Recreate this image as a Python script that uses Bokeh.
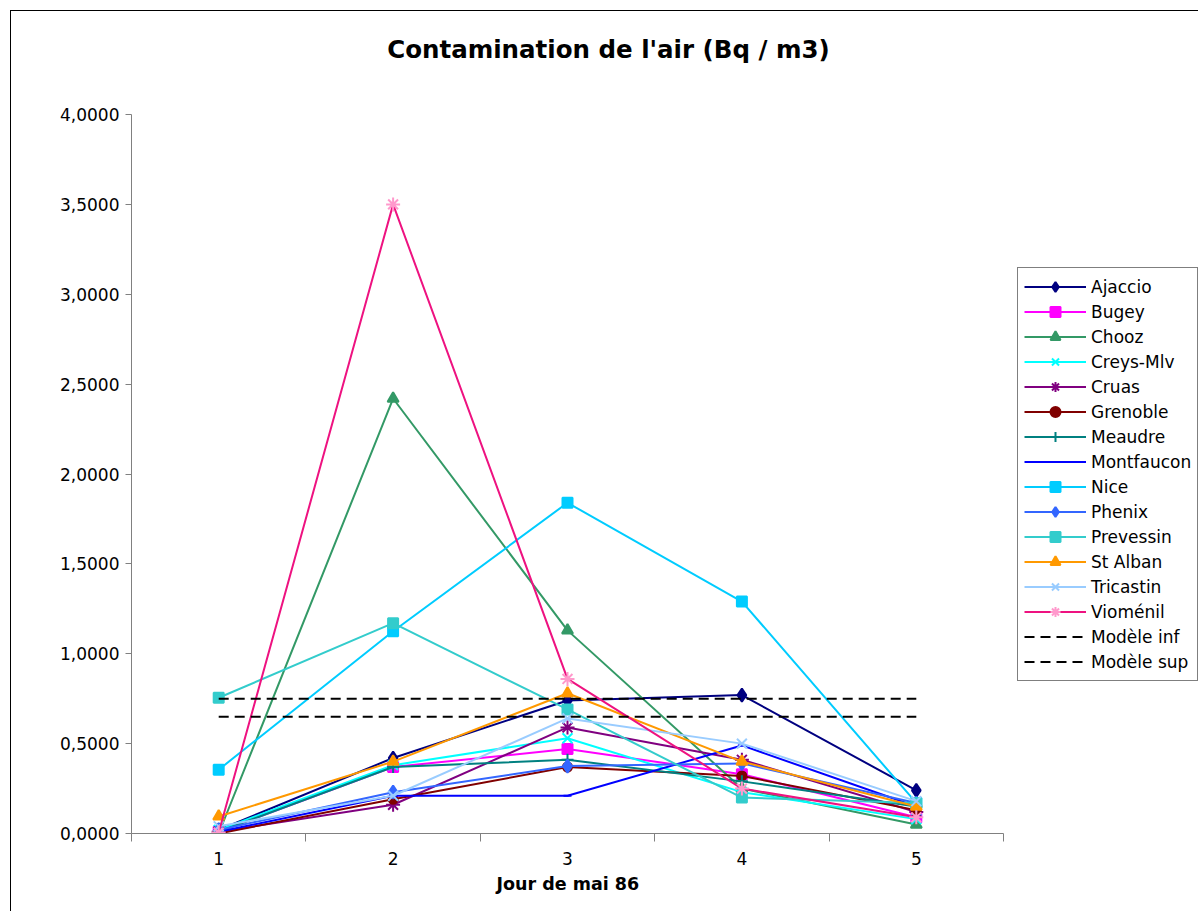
from bokeh.plotting import figure
from bokeh.models import (Range1d, FixedTicker, CustomJSTickFormatter, Legend,
                          LegendItem, Title, Label)
from bokeh.embed import file_html
from bokeh.resources import INLINE

# Days of May 1986
days = [1, 2, 3, 4, 5]

# Air contamination per station (Bq / m3)
ajaccio = [0.02, 0.42, 0.74, 0.77, 0.24]
bugey = [0.01, 0.37, 0.47, 0.33, 0.09]
chooz = [0.00, 2.42, 1.13, 0.25, 0.05]
creys_mlv = [0.02, 0.38, 0.53, 0.23, 0.08]
cruas = [0.01, 0.16, 0.59, 0.41, 0.12]
grenoble = [0.00, 0.19, 0.37, 0.32, 0.13]
meaudre = [0.01, 0.37, 0.41, 0.29, 0.15]
montfaucon = [0.01, 0.21, 0.21, 0.49, 0.15]
nice = [0.355, 1.125, 1.84, 1.29, 0.17]
phenix = [0.02, 0.23, 0.375, 0.39, 0.17]
prevessin = [0.755, 1.17, 0.69, 0.20, 0.17]
st_alban = [0.095, 0.40, 0.78, 0.40, 0.15]
tricastin = [0.04, 0.21, 0.64, 0.50, 0.18]
viomenil = [0.005, 3.50, 0.86, 0.25, 0.09]

# Model bounds
modele_inf = [0.65, 0.65, 0.65, 0.65, 0.65]
modele_sup = [0.75, 0.75, 0.75, 0.75, 0.75]

y_ticks = [0, 0.5, 1, 1.5, 2, 2.5, 3, 3.5, 4]

FONT = "DejaVu Sans"

series = [
    ("Ajaccio", ajaccio, "#000080", "#000080", "diamond", 13),
    ("Bugey", bugey, "#FF00FF", "#FF00FF", "square", 10),
    ("Chooz", chooz, "#339966", "#339966", "triangle", 11),
    ("Creys-Mlv", creys_mlv, "#00FFFF", "#00FFFF", "x", 14),
    ("Cruas", cruas, "#800080", "#800080", "asterisk", 14),
    ("Grenoble", grenoble, "#800000", "#800000", "circle", 9),
    ("Meaudre", meaudre, "#008080", "#008080", "cross", 12),
    ("Montfaucon", montfaucon, "#0000FF", "#0000FF", "dash", 8),
    ("Nice", nice, "#00CCFF", "#00CCFF", "square", 10),
    ("Phenix", phenix, "#3366FF", "#3366FF", "diamond", 13),
    ("Prevessin", prevessin, "#33CCCC", "#33CCCC", "square", 10),
    ("St Alban", st_alban, "#FF9900", "#FF9900", "triangle", 11),
    ("Tricastin", tricastin, "#99CCFF", "#99CCFF", "x", 14),
    ("Vioménil", viomenil, "#EE1280", "#FF99CC", "asterisk", 14),
]

# Layout (pixels). The plotting frame runs to the top and right edges of the
# figure so the title and legend can live inside it; both axes are bounded to
# the data area.
FIG_W, FIG_H = 1188, 901
BORDER_L, BORDER_B = 120, 79
AXIS_W = 872        # pixel length of the day axis (0.5 .. 5.5)
AXIS_H = 719        # pixel height of the value axis (0 .. 4)
frame_w = FIG_W - BORDER_L
frame_h = FIG_H - BORDER_B
px_per_day = AXIS_W / 5.0
px_per_unit = AXIS_H / 4.0
x_end = 0.5 + frame_w / px_per_day
y_end = frame_h / px_per_unit

p = figure(width=FIG_W, height=FIG_H, output_backend="svg", toolbar_location=None,
           x_range=Range1d(0.5, x_end), y_range=Range1d(0, y_end),
           min_border_left=BORDER_L, min_border_right=0,
           min_border_top=0, min_border_bottom=BORDER_B)
p.margin = (10, 0, 0, 10)
p.styles = {"border-left": "1px solid #000000", "border-top": "1px solid #000000"}

p.xgrid.visible = False
p.ygrid.visible = False
p.outline_line_color = None

# Chart title, placed 477 px right of the value axis and 784 px above the day axis
p.add_layout(Label(x=0.5 + 477 / px_per_day, y=784 / px_per_unit,
                   text="Contamination de l'air (Bq / m3)",
                   text_align="center", text_baseline="middle",
                   text_font=FONT, text_font_size="24.5px", text_font_style="bold",
                   text_color="#000000"))

# X axis: labels on days, tick marks between days
p.xaxis.bounds = (0.5, 5.5)
p.xaxis.ticker = FixedTicker(ticks=days, minor_ticks=[0.5, 1.5, 2.5, 3.5, 4.5, 5.5])
p.xaxis.major_tick_line_color = None
p.xaxis.major_tick_out = 0
p.xaxis.major_tick_in = 0
p.xaxis.minor_tick_out = 8
p.xaxis.minor_tick_in = 0
p.xaxis.minor_tick_line_color = "#808080"
p.xaxis.axis_line_color = "#808080"
p.xaxis.major_label_standoff = 10
p.xaxis.major_label_text_font = FONT
p.xaxis.major_label_text_font_size = "17px"
p.xaxis.major_label_text_color = "#000000"

# Day-axis caption, centred under the bounded axis
p.add_layout(Title(text="Jour de mai 86", align="left", offset=365, standoff=9,
                   text_font=FONT, text_font_size="17.5px", text_font_style="bold",
                   text_color="#000000"), "below")

# Y axis with French decimal format
p.yaxis.bounds = (0, 4)
p.yaxis.ticker = FixedTicker(ticks=y_ticks)
p.yaxis.formatter = CustomJSTickFormatter(code="return tick.toFixed(4).replace('.', ',');")
p.yaxis.axis_line_color = "#808080"
p.yaxis.major_tick_line_color = "#808080"
p.yaxis.major_tick_out = 6
p.yaxis.major_tick_in = 0
p.yaxis.minor_tick_line_color = None
p.yaxis.major_label_standoff = 6
p.yaxis.major_label_text_font = FONT
p.yaxis.major_label_text_font_size = "17px"
p.yaxis.major_label_text_color = "#000000"

items = []
for name, vals, line_col, mark_col, marker, size in series:
    ln = p.line(days, vals, line_color=line_col, line_width=2)
    sc = p.scatter(days, vals, marker=marker, size=size, fill_color=mark_col,
                   line_color=mark_col, line_width=2)
    items.append(LegendItem(label=name, renderers=[ln, sc]))

for name, vals in [("Modèle inf", modele_inf), ("Modèle sup", modele_sup)]:
    ln = p.line(days, vals, line_color="#000000", line_width=2, line_dash="10 6")
    items.append(LegendItem(label=name, renderers=[ln]))

legend = Legend(items=items, location=(886, 152), margin=0, padding=6, spacing=0,
                glyph_width=62, glyph_height=25, label_height=25, label_standoff=5,
                label_text_font=FONT, label_text_font_size="17px",
                label_text_color="#000000",
                border_line_color="#000000", border_line_width=1,
                background_fill_color="#FFFFFF", background_fill_alpha=1)
p.add_layout(legend, "center")

open("out.html", "w").write(file_html(p, INLINE))
